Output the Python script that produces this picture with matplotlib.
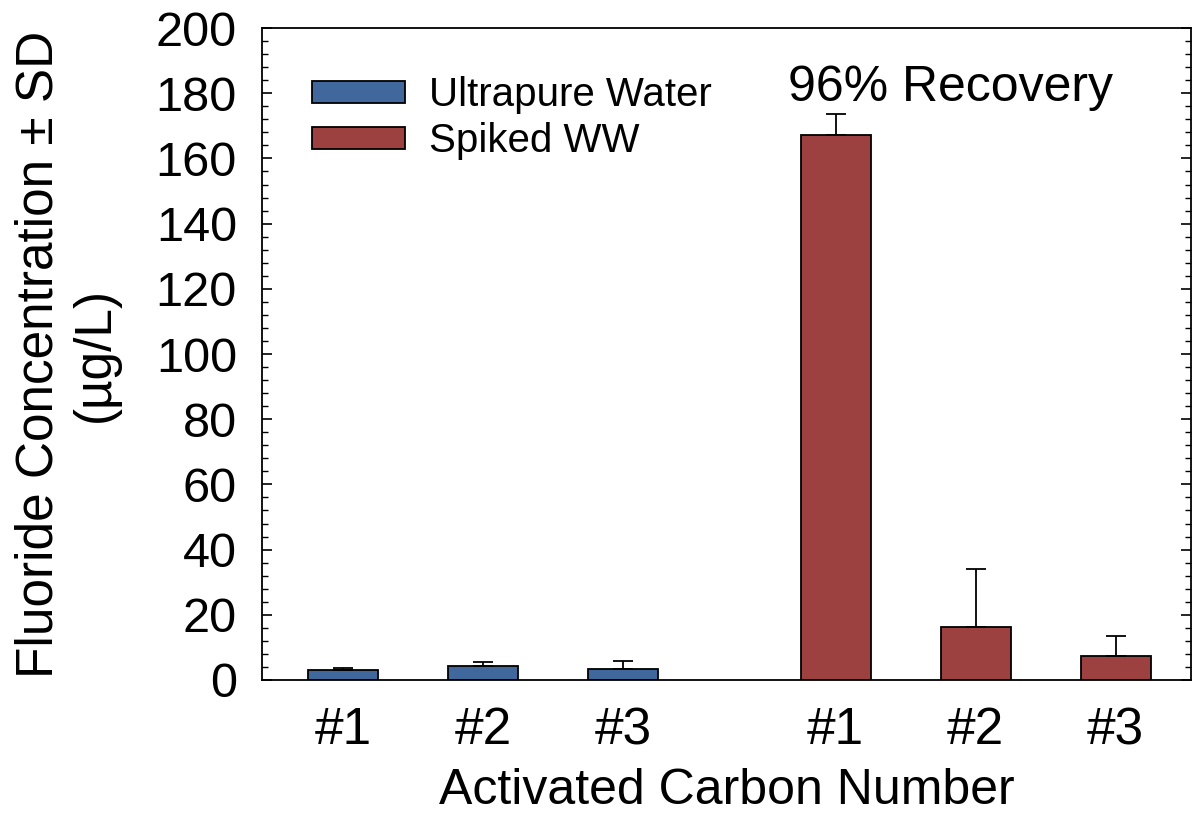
import numpy as np
import matplotlib
matplotlib.use("Agg")
import matplotlib.pyplot as plt
from matplotlib.ticker import MultipleLocator

plt.rcParams['font.family'] = ['Liberation Sans', 'DejaVu Sans']

# data
labels = ["#1", "#2", "#3", "#1", "#2", "#3"]
uw_mean = [3.1, 4.4, 3.3]
uw_sd = [0.6, 1.0, 2.5]
ww_mean = [167.2, 16.2, 7.4]
ww_sd = [6.4, 17.8, 6.2]

uw_pos = np.array([0, 1, 2])
ww_pos = np.array([3.52, 4.52, 5.52])

blue = "#41689c"
red = "#9c413f"

fig = plt.figure(figsize=(11.93, 8.25), dpi=100)
ax = fig.add_axes([0.2196, 0.1758, 0.9983 - 0.2196, 0.966 - 0.1758])

err_kw = dict(ecolor="black", elinewidth=1.3, capsize=7, capthick=1.3)
ax.bar(uw_pos, uw_mean, width=0.5, color=blue, edgecolor="black", linewidth=1.3,
       yerr=[np.zeros(3), uw_sd], error_kw=err_kw, label="Ultrapure Water")
ax.bar(ww_pos, ww_mean, width=0.5, color=red, edgecolor="black", linewidth=1.3,
       yerr=[np.zeros(3), ww_sd], error_kw=err_kw, label="Spiked WW")

ax.set_xlim(-0.579, 6.057)
ax.set_ylim(0, 200)
ax.set_xticks(np.concatenate([uw_pos, ww_pos]))
ax.set_xticklabels(labels, fontsize=37)
ax.tick_params(axis="x", length=0, pad=19)
ax.yaxis.set_major_locator(MultipleLocator(20))
ax.yaxis.set_minor_locator(MultipleLocator(4))
ax.tick_params(axis="y", which="major", direction="in", length=7, width=1.2,
               right=True, labelsize=35, pad=18)
ax.tick_params(axis="y", which="minor", direction="in", length=4.5, width=1.0, right=True)
for s in ax.spines.values():
    s.set_linewidth(1.3)

ax.set_xlabel("Activated Carbon Number", fontsize=36, labelpad=9)
ax.set_ylabel("Fluoride Concentration \u00b1 SD\n(\u00b5g/L)", fontsize=37, labelpad=26)

ax.text(0.566, 0.888, "96% Recovery", transform=ax.transAxes, fontsize=36,
        ha="left", va="baseline")

ax.legend(loc="upper left", bbox_to_anchor=(0.054, 0.926), frameon=False,
          fontsize=29, handlelength=2.3, handleheight=0.45, handletextpad=0.6,
          labelspacing=0.2, borderpad=0, borderaxespad=0)

fig.savefig("out.png", dpi=100)
